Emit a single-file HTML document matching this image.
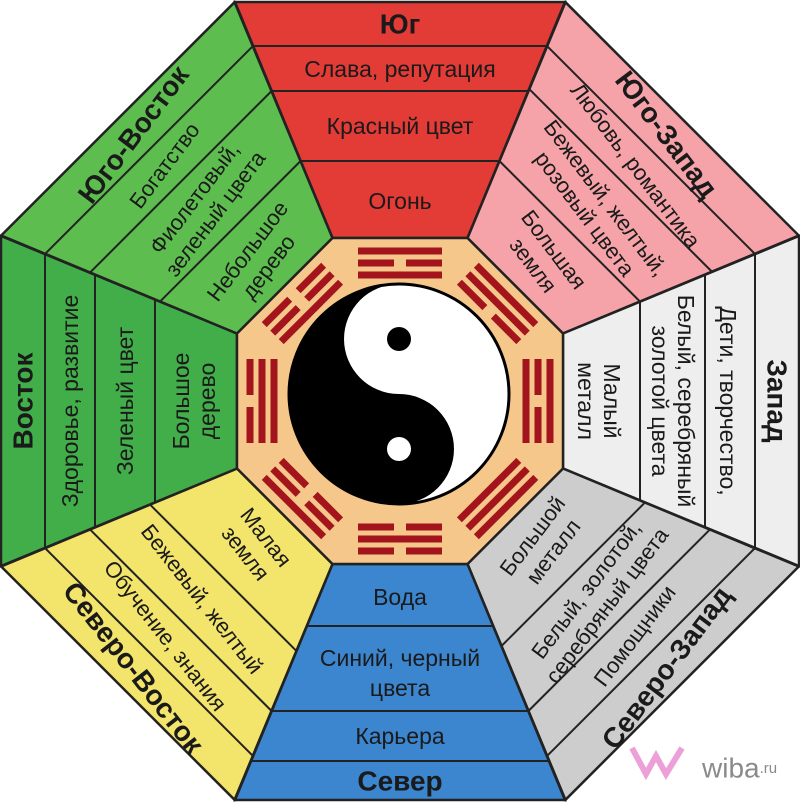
<!DOCTYPE html>
<html><head><meta charset="utf-8"><style>
html,body{margin:0;padding:0;background:#fff;width:800px;height:804px;overflow:hidden}
svg{display:block}
text{font-family:"Liberation Sans","DejaVu Sans",sans-serif;fill:#1a1a1a;text-anchor:middle;dominant-baseline:central}
.t{font-size:28px;font-weight:bold}
.b{font-size:23px}
.d{font-size:22px}
.ln{stroke:#222;stroke-width:2}
.sec{stroke:#222;stroke-width:2.5}
.tg rect{fill:#a3141c}
</style></head><body>
<svg width="800" height="804" viewBox="0 0 800 804" xmlns="http://www.w3.org/2000/svg">
<g transform="translate(400,401)">
<!-- S -->
<g>
<polygon class="sec" fill="#e33b36" points="-165,-399 165,-399 67.5,-163 -67.5,-163"/>
<line class="ln" x1="-147" y1="-355" x2="147" y2="-355"/><line class="ln" x1="-128.4" y1="-310" x2="128.4" y2="-310"/><line class="ln" x1="-99.4" y1="-240" x2="99.4" y2="-240"/>
<text class="t" y="-377">Юг</text><text class="b" y="-332">Слава, репутация</text><text class="b" y="-275">Красный цвет</text><text class="b" y="-200">Огонь</text>
</g>
<!-- SW -->
<g transform="rotate(45)">
<polygon class="sec" fill="#f5a3a8" points="-165,-399 165,-399 67.5,-163 -67.5,-163"/>
<line class="ln" x1="-147" y1="-355" x2="147" y2="-355"/><line class="ln" x1="-129.2" y1="-312" x2="129.2" y2="-312"/><line class="ln" x1="-99.4" y1="-240" x2="99.4" y2="-240"/>
<text class="t" y="-377" transform="rotate(8 0 -377)">Юго-Запад</text>
<text class="d" y="-333" transform="rotate(8 0 -333)">Любовь, романтика</text>
<text class="d" y="-289" transform="rotate(8 0 -276)">Бежевый, желтый,</text>
<text class="d" y="-263" transform="rotate(8 0 -276)">розовый цвета</text>
<text class="d" y="-216" transform="rotate(8 0 -203)">Большая</text>
<text class="d" y="-190" transform="rotate(8 0 -203)">земля</text>
</g>
<!-- W -->
<g transform="rotate(90)">
<polygon class="sec" fill="#eeeeee" points="-165,-399 165,-399 67.5,-163 -67.5,-163"/>
<line class="ln" x1="-147" y1="-355" x2="147" y2="-355"/><line class="ln" x1="-126.3" y1="-305" x2="126.3" y2="-305"/><line class="ln" x1="-99.4" y1="-240" x2="99.4" y2="-240"/>
<text class="t" y="-377">Запад</text><text class="b" y="-328">Дети, творчество,</text>
<text class="b" y="-286">Белый, серебряный</text><text class="b" y="-260">золотой цвета</text>
<text class="b" y="-212">Малый</text><text class="b" y="-186">металл</text>
</g>
<!-- NW -->
<g transform="rotate(-45)">
<polygon class="sec" fill="#cdcdcd" points="-165,399 165,399 67.5,163 -67.5,163"/>
<line class="ln" x1="-147" y1="355" x2="147" y2="355"/><line class="ln" x1="-128.4" y1="310" x2="128.4" y2="310"/><line class="ln" x1="-101.5" y1="245" x2="101.5" y2="245"/>
<text class="t" y="377" transform="rotate(-8 0 377)">Северо-Запад</text>
<text class="d" y="332" transform="rotate(-8 0 332)">Помощники</text>
<text class="d" y="265" transform="rotate(-8 0 278)">Белый, золотой,</text>
<text class="d" y="291" transform="rotate(-8 0 278)">серебряный цвета</text>
<text class="d" y="189" transform="rotate(-8 0 202)">Большой</text>
<text class="d" y="215" transform="rotate(-8 0 202)">металл</text>
</g>
<!-- N -->
<g>
<polygon class="sec" fill="#3b86cf" points="-165,399 165,399 67.5,163 -67.5,163"/>
<line class="ln" x1="-149.1" y1="360" x2="149.1" y2="360"/><line class="ln" x1="-128.4" y1="310" x2="128.4" y2="310"/><line class="ln" x1="-93.2" y1="225" x2="93.2" y2="225"/>
<text class="t" y="380">Север</text><text class="b" y="335">Карьера</text>
<text class="b" y="257">Синий, черный</text><text class="b" y="287">цвета</text><text class="b" y="196">Вода</text>
</g>
<!-- NE -->
<g transform="rotate(45)">
<polygon class="sec" fill="#f3e46c" points="-165,399 165,399 67.5,163 -67.5,163"/>
<line class="ln" x1="-147" y1="355" x2="147" y2="355"/><line class="ln" x1="-128.4" y1="310" x2="128.4" y2="310"/><line class="ln" x1="-103.5" y1="250" x2="103.5" y2="250"/>
<text class="t" y="377" transform="rotate(7 0 377)">Северо-Восток</text>
<text class="d" y="332" transform="rotate(7 0 332)">Обучение, знания</text>
<text class="d" y="280" transform="rotate(7 0 280)">Бежевый, желтый</text>
<text class="d" y="191" transform="rotate(7 0 204)">Малая</text>
<text class="d" y="217" transform="rotate(7 0 204)">земля</text>
</g>
<!-- E -->
<g transform="rotate(-90)">
<polygon class="sec" fill="#41ae4a" points="-165,-399 165,-399 67.5,-163 -67.5,-163"/>
<line class="ln" x1="-147" y1="-355" x2="147" y2="-355"/><line class="ln" x1="-126.3" y1="-305" x2="126.3" y2="-305"/><line class="ln" x1="-101.5" y1="-245" x2="101.5" y2="-245"/>
<text class="t" y="-377">Восток</text><text class="b" y="-330">Здоровье, развитие</text>
<text class="b" y="-275">Зеленый цвет</text>
<text class="b" y="-219">Большое</text><text class="b" y="-193">дерево</text>
</g>
<!-- SE -->
<g transform="rotate(-45)">
<polygon class="sec" fill="#5dbd4e" points="-165,-399 165,-399 67.5,-163 -67.5,-163"/>
<line class="ln" x1="-147" y1="-355" x2="147" y2="-355"/><line class="ln" x1="-128.4" y1="-310" x2="128.4" y2="-310"/><line class="ln" x1="-99.4" y1="-240" x2="99.4" y2="-240"/>
<text class="t" y="-377" transform="rotate(-8 0 -377)">Юго-Восток</text>
<text class="d" y="-333" transform="rotate(-8 0 -333)">Богатство</text>
<text class="d" y="-289" transform="rotate(-8 0 -276)">Фиолетовый,</text>
<text class="d" y="-263" transform="rotate(-8 0 -276)">зеленый цвета</text>
<text class="d" y="-214" transform="rotate(-8 0 -201)">Небольшое</text>
<text class="d" y="-188" transform="rotate(-8 0 -201)">дерево</text>
</g>

<!-- inner octagon -->
<polygon fill="#f6c78a" stroke="#222" stroke-width="2.5" points="-67.5,-163 67.5,-163 163,-67.5 163,67.5 67.5,163 -67.5,163 -163,67.5 -163,-67.5"/>

<!-- trigrams -->
<g class="tg">
<g><rect x="-42" y="-153.5" width="84" height="7"/><rect x="-42" y="-141.5" width="36" height="7"/><rect x="6" y="-141.5" width="36" height="7"/><rect x="-42" y="-129.5" width="84" height="7"/></g>
<g transform="rotate(45)"><rect x="-42" y="-153.5" width="84" height="7"/><rect x="-42" y="-141.5" width="84" height="7"/><rect x="-42" y="-129.5" width="36" height="7"/><rect x="6" y="-129.5" width="36" height="7"/></g>
<g transform="rotate(90)"><rect x="-42" y="-153.5" width="84" height="7"/><rect x="-42" y="-141.5" width="36" height="7"/><rect x="6" y="-141.5" width="36" height="7"/><rect x="-42" y="-129.5" width="84" height="7"/></g>
<g transform="rotate(135)"><rect x="-42" y="-153.5" width="84" height="7"/><rect x="-42" y="-141.5" width="84" height="7"/><rect x="-42" y="-129.5" width="84" height="7"/></g>
<g transform="rotate(180)"><rect x="-42" y="-153.5" width="36" height="7"/><rect x="6" y="-153.5" width="36" height="7"/><rect x="-42" y="-141.5" width="84" height="7"/><rect x="-42" y="-129.5" width="36" height="7"/><rect x="6" y="-129.5" width="36" height="7"/></g>
<g transform="rotate(225)"><rect x="-42" y="-153.5" width="84" height="7"/><rect x="-42" y="-141.5" width="36" height="7"/><rect x="6" y="-141.5" width="36" height="7"/><rect x="-42" y="-129.5" width="36" height="7"/><rect x="6" y="-129.5" width="36" height="7"/></g>
<g transform="rotate(270)"><rect x="-42" y="-153.5" width="36" height="7"/><rect x="6" y="-153.5" width="36" height="7"/><rect x="-42" y="-141.5" width="84" height="7"/><rect x="-42" y="-129.5" width="84" height="7"/></g>
<g transform="rotate(315)"><rect x="-42" y="-153.5" width="36" height="7"/><rect x="6" y="-153.5" width="36" height="7"/><rect x="-42" y="-141.5" width="36" height="7"/><rect x="6" y="-141.5" width="36" height="7"/><rect x="-42" y="-129.5" width="84" height="7"/></g>
</g>

<!-- yin yang -->
<g transform="translate(-1,-7)">
<circle r="110" fill="#fff" stroke="#000" stroke-width="3"/>
<path d="M0,-110 A110,110 0 0,0 0,110 A55,55 0 0,0 0,0 A55,55 0 0,1 0,-110 Z" fill="#000"/>
<circle cy="-55" r="12" fill="#000"/>
<circle cy="55" r="12" fill="#fff"/>
</g>
</g>

<!-- watermark -->
<g transform="translate(632,746)">
<path d="M0,2 L14,28 L24,10 L34,28 L50,2" fill="none" stroke="#e98fd0" stroke-width="6" opacity="0.85"/>
</g>
<text x="702" y="768" style="font-size:28px;fill:#8a8a8a;text-anchor:start">wiba<tspan style="font-size:15px">.ru</tspan></text>
</svg>
</body></html>
